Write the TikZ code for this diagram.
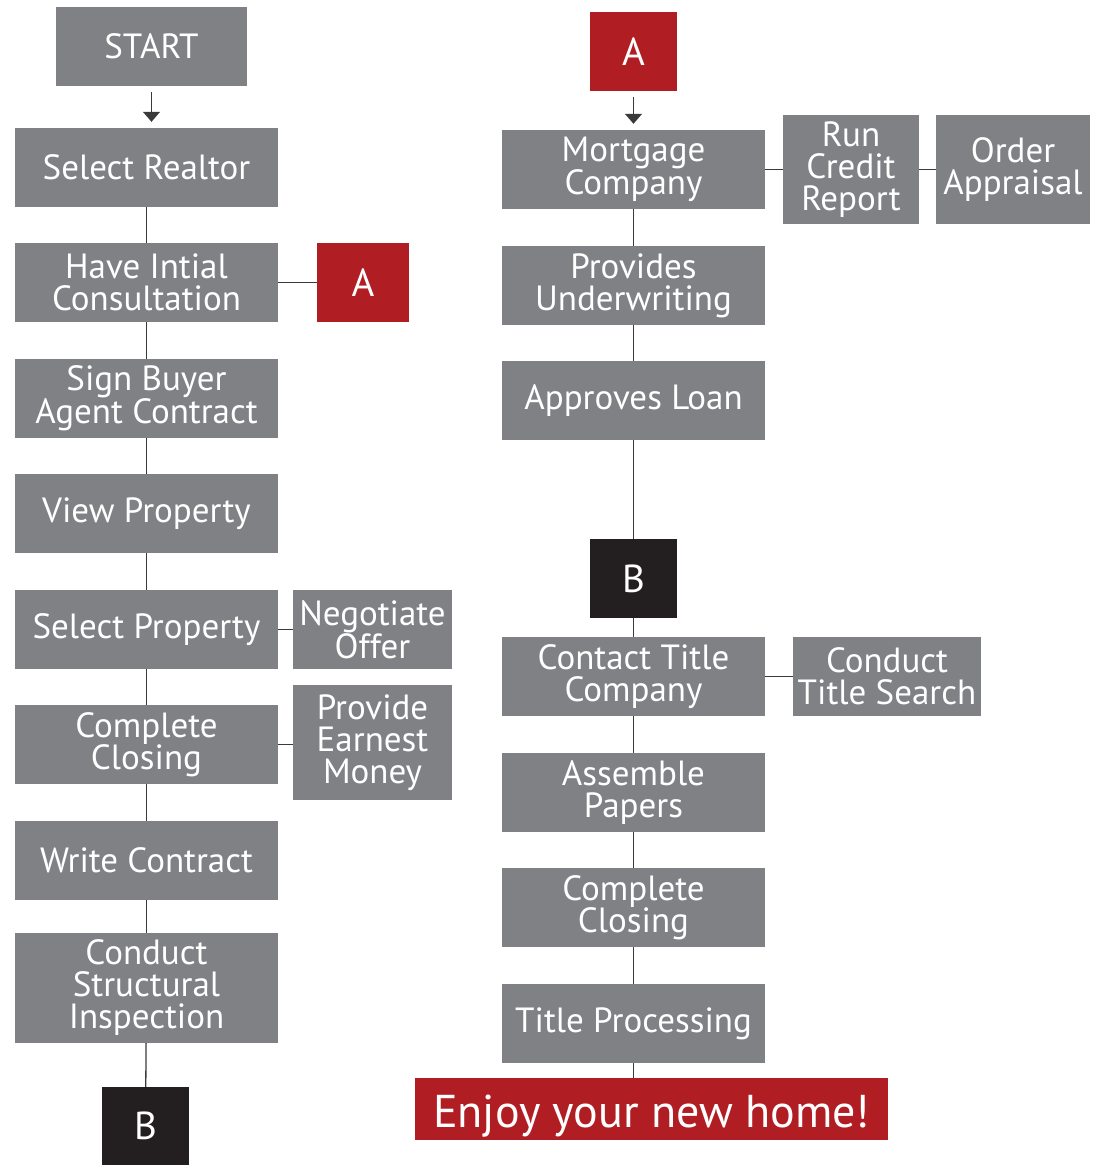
\documentclass[tikz,border=0pt]{standalone}
\usepackage{fontspec}
\setmainfont{PT Sans}
\usetikzlibrary{arrows.meta}
\definecolor{boxgray}{HTML}{808185}
\definecolor{boxred}{HTML}{B01E23}
\definecolor{boxblack}{HTML}{231F20}
\definecolor{linegray}{HTML}{3A3A3C}
\tikzset{
  box/.style={fill=boxgray, text=white, inner sep=0pt, align=center,
    font=\fontsize{35}{32}\selectfont, minimum width=263pt, minimum height=79pt},
  sidebox/.style={box},
  redbox/.style={box, fill=boxred, font=\fontsize{39}{39}\selectfont},
  blackbox/.style={box, fill=boxblack, font=\fontsize{39}{39}\selectfont},
  conn/.style={draw=linegray, line width=1.3pt},
  arr/.style={conn, -{Triangle[length=10pt,width=17pt]}, shorten <=6pt, shorten >=6pt}
}
\begin{document}
\begin{tikzpicture}[x=1pt,y=-1pt]
\useasboundingbox (0,0) rectangle (1101,1165);
% left column
\node[box, minimum width=191pt] (start) at (151.5,46.5) {START};
\node[box] (l1) at (146.5,167.5) {Select Realtor};
\node[box] (l2) at (146.5,282.5) {Have Intial\\Consultation};
\node[redbox, minimum width=92pt] (la) at (363,282.5) {A};
\node[box] (l3) at (146.5,398.5) {Sign Buyer\\Agent Contract};
\node[box] (l4) at (146.5,513.5) {View Property};
\node[box] (l5) at (146.5,629.5) {Select Property};
\node[sidebox, minimum width=159pt] (s5) at (372.5,629.5) {Negotiate\\Offer};
\node[box] (l6) at (146.5,744.5) {Complete\\Closing};
\node[sidebox, minimum width=159pt, minimum height=115pt] (s6) at (372.5,742.5) {Provide\\Earnest\\Money};
\node[box] (l7) at (146.5,860.5) {Write Contract};
\node[box, minimum height=110pt] (l8) at (146.5,988) {Conduct\\Structural\\Inspection};
\node[blackbox, minimum width=87pt, minimum height=78pt] (lb) at (145.5,1126) {B};
% right column
\node[redbox, minimum width=87pt] (ra) at (633.5,51.5) {A};
\node[box] (r1) at (633.5,169.5) {Mortgage\\Company};
\node[sidebox, minimum width=136pt, minimum height=109pt] (c1) at (851,169.5) {Run\\Credit\\Report};
\node[sidebox, minimum width=154pt, minimum height=109pt] (c2) at (1013,169.5) {Order\\Appraisal};
\node[box] (r2) at (633.5,285.5) {Provides\\Underwriting};
\node[box] (r3) at (633.5,400.5) {Approves Loan};
\node[blackbox, minimum width=87pt] (rb) at (633.5,578.5) {B};
\node[box] (r4) at (633.5,676.5) {Contact Title\\Company};
\node[sidebox, minimum width=188pt] (c4) at (887,676.5) {Conduct\\Title Search};
\node[box] (r5) at (633.5,792.5) {Assemble\\Papers};
\node[box] (r6) at (633.5,907.5) {Complete\\Closing};
\node[box] (r7) at (633.5,1023.5) {Title Processing};
\node[redbox, minimum width=473pt, minimum height=62pt, text height=38pt, text depth=2pt, font=\fontsize{46}{46}\selectfont] (end) at (651.5,1109) {Enjoy your new home!};
% connectors left
\draw[arr] (start.south) -- (start.south |- l1.north);
\draw[conn] (l1) -- (l2);
\draw[conn] (l2) -- (l3);
\draw[conn] (l3) -- (l4);
\draw[conn] (l4) -- (l5);
\draw[conn] (l5) -- (l6);
\draw[conn] (l6) -- (l7);
\draw[conn] (l7) -- (l8);
\draw[conn] (l8) -- (lb);
\draw[conn] (l2) -- (la);
\draw[conn] (l5) -- (s5);
\draw[conn] (l6.east) -- (s6.west |- l6.east);
% connectors right
\draw[arr] (ra.south) -- (ra.south |- r1.north);
\draw[conn] (r1) -- (r2);
\draw[conn] (r2) -- (r3);
\draw[conn] (r3) -- (rb);
\draw[conn] (rb) -- (r4);
\draw[conn] (r4) -- (r5);
\draw[conn] (r5) -- (r6);
\draw[conn] (r6) -- (r7);
\draw[conn] (r7.south) -- (r7.south |- end.north);
\draw[conn] (r1) -- (c1);
\draw[conn] (c1) -- (c2);
\draw[conn] (r4) -- (c4);
\end{tikzpicture}
\end{document}
